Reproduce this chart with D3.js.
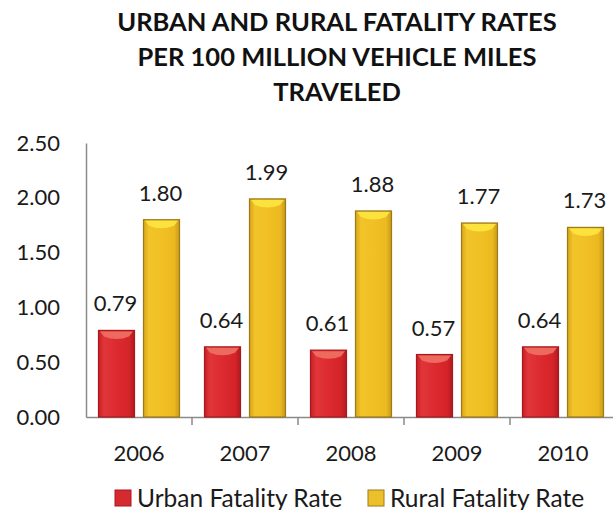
<!DOCTYPE html>
<html><head><meta charset="utf-8">
<script src="https://cdn.jsdelivr.net/npm/d3@7"></script>
<style>
html,body{margin:0;padding:0;background:#fff;}
svg{display:block;font-family:Lato,"Open Sans",sans-serif;}
</style></head>
<body><svg id="c" width="613" height="510"></svg>
<script>
const years = ["2006","2007","2008","2009","2010"];
const urban = [0.79,0.64,0.61,0.57,0.64];
const rural = [1.80,1.99,1.88,1.77,1.73];
const seriesNames = ["Urban Fatality Rate","Rural Fatality Rate"];
const yTicks = [0,0.5,1.0,1.5,2.0,2.5];
const titleLines = ["URBAN AND RURAL FATALITY RATES","PER 100 MILLION VEHICLE MILES","TRAVELED"];

const svg = d3.select("#c");
const defs = svg.append("defs");
function grad(id, stops){
  const g = defs.append("linearGradient").attr("id",id).attr("x1","0%").attr("x2","100%").attr("y1","0%").attr("y2","0%");
  stops.forEach(s=>g.append("stop").attr("offset",s[0]).attr("stop-color",s[1]));
}
grad("gU",[["0%","#c81e26"],["15%","#e0363a"],["50%","#dc2a30"],["85%","#d42429"],["100%","#b01a20"]]);
grad("gR",[["0%","#d9a418"],["15%","#f2c42a"],["50%","#f0c024"],["85%","#ecba20"],["100%","#c89a18"]]);

const x0 = d3.scaleBand().domain(years).range([86,616]).paddingInner(0).paddingOuter(0);
const x1 = d3.scaleBand().domain(seriesNames).range([12.5, x0.bandwidth()-12.5]).paddingInner(0.2).paddingOuter(0);
const y = d3.scaleLinear().domain([0,2.5]).range([417,143]);

// title
svg.append("g").selectAll("text").data(titleLines).join("text")
  .attr("x",337).attr("y",(d,i)=>31+i*35).attr("text-anchor","middle")
  .attr("font-weight","bold").attr("font-size",25.5).attr("fill","#111").text(d=>d);

// y axis
const ya = svg.append("g").attr("transform","translate(86,0)")
  .call(d3.axisLeft(y).tickValues(yTicks).tickFormat(d3.format(".2f")).tickSize(0).tickPadding(26));
ya.select(".domain").attr("stroke","#8a8a8a").attr("stroke-width",1.5);
ya.selectAll("text").attr("font-size",22).attr("fill","#1a1a1a").attr("font-family","Lato");

// x axis
const xa = svg.append("g").attr("transform","translate(0,417)")
  .call(d3.axisBottom(x0).tickSize(0).tickPadding(28));
xa.select(".domain").attr("stroke","#8a8a8a").attr("stroke-width",1.5);
xa.selectAll("text").attr("font-size",22).attr("fill","#1a1a1a").attr("font-family","Lato");
// tick marks at band boundaries
svg.append("g").selectAll("line").data(years.slice(1)).join("line")
  .attr("x1",d=>x0(d)).attr("x2",d=>x0(d)).attr("y1",417).attr("y2",425)
  .attr("stroke","#8a8a8a").attr("stroke-width",1.5);

const data = years.map((yr,i)=>({year:yr, vals:[{s:seriesNames[0],v:urban[i]},{s:seriesNames[1],v:rural[i]}]}));
const groups = svg.append("g").selectAll("g").data(data).join("g")
  .attr("transform",d=>`translate(${x0(d.year)},0)`);

groups.selectAll("rect.bar").data(d=>d.vals).join("rect").attr("class","bar")
  .attr("x",d=>x1(d.s)).attr("width",x1.bandwidth())
  .attr("y",d=>y(d.v)).attr("height",d=>y(0)-y(d.v))
  .attr("fill",d=>d.s===seriesNames[0]?"url(#gU)":"url(#gR)")
  .attr("stroke",d=>d.s===seriesNames[0]?"#a8181e":"#9c7a1a").attr("stroke-width",1.2);

// top highlight
groups.selectAll("path.top").data(d=>d.vals).join("path").attr("class","top")
  .attr("d",d=>{
    const xl=x1(d.s)+1.5, w=x1.bandwidth()-3, t=y(d.v)+1;
    return `M${xl},${t} L${xl+w},${t} L${xl+w-4},${t+5} Q${xl+w/2},${t+10} ${xl+4},${t+5} Z`;
  })
  .attr("fill",d=>d.s===seriesNames[0]?"#ec6a5e":"#fbe23c");

// value labels
groups.selectAll("text.val").data(d=>d.vals).join("text").attr("class","val")
  .attr("x",d=>x1(d.s)+x1.bandwidth()/2-1).attr("y",d=>y(d.v)-19)
  .attr("text-anchor","middle").attr("font-size",22).attr("fill","#1a1a1a")
  .text(d=>d3.format(".2f")(d.v));

// legend
const legX = [115, 368];
const lg = svg.append("g").selectAll("g").data(seriesNames).join("g")
  .attr("transform",(d,i)=>`translate(${legX[i]},490)`);
lg.append("rect").attr("width",16).attr("height",16)
  .attr("fill",(d,i)=>i===0?"#d42a30":"#ecc02a")
  .attr("stroke",(d,i)=>i===0?"#a8181e":"#9c7a1a").attr("stroke-width",1);
lg.append("text").attr("x",(d,i)=>i===0?22:22).attr("y",16.5).attr("font-size",24.5).attr("fill","#1a1a1a").text(d=>d);
</script>
</body></html>
